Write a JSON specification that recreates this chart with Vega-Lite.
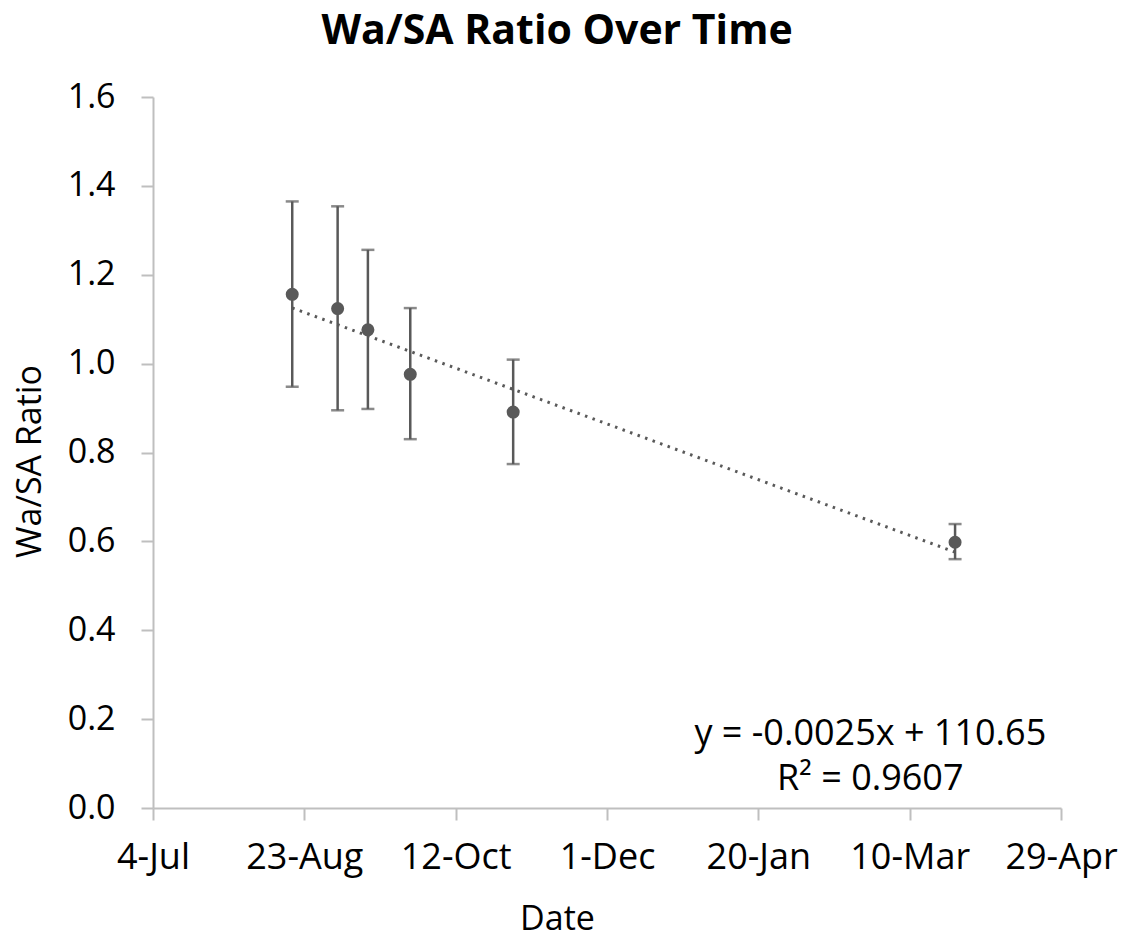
{
  "$schema": "https://vega.github.io/schema/vega-lite/v6.json",
  "width": 908,
  "height": 711,
  "autosize": "none",
  "padding": {"left": 153, "top": 97, "right": 63, "bottom": 132},
  "background": "white",
  "title": {
    "text": "Wa/SA Ratio Over Time",
    "font": "Open Sans",
    "fontSize": 41,
    "fontWeight": "bold",
    "color": "#000000",
    "anchor": "middle",
    "frame": "group",
    "dx": -50,
    "offset": 27
  },
  "config": {
    "view": {"stroke": null},
    "axis": {
      "grid": false,
      "domainColor": "#bfbfbf",
      "tickColor": "#bfbfbf",
      "domainWidth": 2,
      "tickWidth": 2,
      "tickSize": 12,
      "labelFont": "Open Sans",
      "labelColor": "#000000",
      "labelFlush": false,
      "titleFont": "Open Sans",
      "titleFontSize": 34,
      "titleFontWeight": "normal",
      "titleColor": "#000000"
    }
  },
  "data": {
    "values": [
      {"date": "2019-08-19", "ratio": 1.156, "lo": 0.948, "hi": 1.365},
      {"date": "2019-09-03", "ratio": 1.124, "lo": 0.895, "hi": 1.354},
      {"date": "2019-09-13", "ratio": 1.076, "lo": 0.898, "hi": 1.256},
      {"date": "2019-09-27", "ratio": 0.976, "lo": 0.830, "hi": 1.125},
      {"date": "2019-10-31", "ratio": 0.891, "lo": 0.774, "hi": 1.009},
      {"date": "2020-03-25", "ratio": 0.598, "lo": 0.560, "hi": 0.639}
    ]
  },
  "encoding": {
    "x": {
      "field": "date",
      "type": "temporal",
      "title": "Date",
      "scale": {
        "type": "utc",
        "domain": [
          {"year": 2019, "month": 7, "date": 4, "utc": true},
          {"year": 2020, "month": 4, "date": 29, "utc": true}
        ]
      },
      "axis": {
        "format": "%-d-%b",
        "values": [
          {"year": 2019, "month": 7, "date": 4, "utc": true},
          {"year": 2019, "month": 8, "date": 23, "utc": true},
          {"year": 2019, "month": 10, "date": 12, "utc": true},
          {"year": 2019, "month": 12, "date": 1, "utc": true},
          {"year": 2020, "month": 1, "date": 20, "utc": true},
          {"year": 2020, "month": 3, "date": 10, "utc": true},
          {"year": 2020, "month": 4, "date": 29, "utc": true}
        ],
        "labelFontSize": 36,
        "labelPadding": 20,
        "titlePadding": 27,
        "titleX": 404,
        "titleAlign": "center"
      }
    }
  },
  "layer": [
    {
      "transform": [{"regression": "ratio", "on": "date"}],
      "mark": {"type": "line", "color": "#595959", "strokeDash": [2.5, 5.5], "strokeWidth": 3},
      "encoding": {
        "y": {
          "field": "ratio",
          "type": "quantitative",
          "title": "Wa/SA Ratio",
          "scale": {"domain": [0, 1.6]},
          "axis": {"values": [0, 0.2, 0.4, 0.6, 0.8, 1.0, 1.2, 1.4, 1.6], "format": ".1f", "labelFontSize": 34, "labelPadding": 26, "titlePadding": 20, "titleY": 364}
        }
      }
    },
    {
      "mark": {"type": "errorbar", "ticks": true, "size": 13, "thickness": 2.5, "color": "#595959"},
      "encoding": {
        "y": {"field": "lo", "type": "quantitative", "title": "Wa/SA Ratio"},
        "y2": {"field": "hi"}
      }
    },
    {
      "mark": {"type": "point", "filled": true, "opacity": 1, "size": 170, "color": "#595959"},
      "encoding": {
        "y": {"field": "ratio", "type": "quantitative", "title": "Wa/SA Ratio"}
      }
    },
    {
      "data": {
        "values": [
          {"date": "2020-02-26", "ratio": 0.142, "label": "y = -0.0025x + 110.65"},
          {"date": "2020-02-26", "ratio": 0.041, "label": "R² = 0.9607"}
        ]
      },
      "mark": {"type": "text", "font": "Open Sans", "fontSize": 36, "color": "#000000", "align": "center", "baseline": "alphabetic"},
      "encoding": {
        "y": {"field": "ratio", "type": "quantitative", "title": "Wa/SA Ratio"},
        "text": {"field": "label"}
      }
    }
  ]
}
